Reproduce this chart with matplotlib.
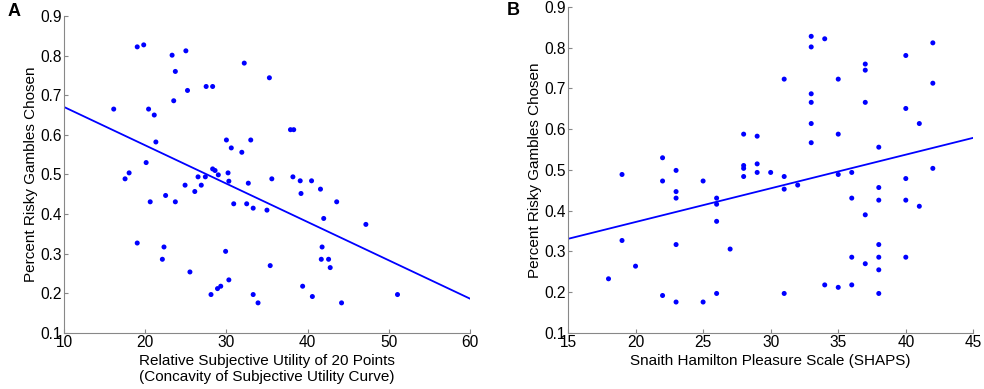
import matplotlib
matplotlib.use("Agg")
import matplotlib.pyplot as plt

plt.rcParams['font.family'] = ['Liberation Sans', 'DejaVu Sans']

# panel A: relative subjective utility vs percent risky gambles
util_x = [16.1, 19.0, 19.8, 23.3, 25.0, 23.7, 25.2, 23.5, 32.2, 27.5, 28.3, 35.3,
          20.4, 21.1, 21.3, 20.1, 17.5, 18.0, 20.6, 22.5, 23.7, 24.9, 26.1, 26.5,
          26.9, 27.4, 28.3, 28.6, 29.0, 30.0, 30.6, 30.2, 30.3, 31.9, 33.0, 32.7,
          30.9, 32.5, 33.3, 35.0, 35.6, 37.9, 38.3, 38.2, 39.1, 39.2, 40.5, 41.6,
          42.0, 43.6, 47.2, 19.0, 22.3, 22.1, 25.5, 28.1, 28.9, 29.3, 29.9, 30.3,
          33.3, 33.9, 35.4, 39.4, 40.6, 41.8, 41.7, 42.6, 42.8, 44.2, 51.1]
util_y = [0.665, 0.822, 0.827, 0.801, 0.812, 0.760, 0.712, 0.686, 0.781, 0.722, 0.722, 0.744,
          0.665, 0.650, 0.582, 0.530, 0.489, 0.504, 0.431, 0.447, 0.431, 0.473, 0.457, 0.494,
          0.473, 0.494, 0.514, 0.510, 0.499, 0.587, 0.567, 0.504, 0.483, 0.556, 0.587, 0.478,
          0.426, 0.426, 0.415, 0.410, 0.489, 0.613, 0.613, 0.494, 0.484, 0.452, 0.484, 0.463,
          0.389, 0.431, 0.374, 0.327, 0.317, 0.286, 0.254, 0.197, 0.212, 0.218, 0.306, 0.234,
          0.197, 0.176, 0.270, 0.218, 0.192, 0.317, 0.286, 0.286, 0.265, 0.176, 0.197]
fit_a_x = [10, 60]
fit_a_y = [0.670, 0.187]

# panel B: SHAPS vs percent risky gambles
shaps_x = [18, 19, 19, 20, 22, 22, 22, 23, 23, 23, 23, 23, 25, 25,
           26, 26, 26, 26, 27, 28, 28, 28, 28, 29, 29, 29, 30,
           31, 31, 31, 31, 32, 33, 33, 33, 33, 33, 33, 34, 34,
           35, 35, 35, 35, 36, 36, 36, 36, 37, 37, 37, 37, 37,
           38, 38, 38, 38, 38, 38, 38, 40, 40, 40, 40, 40, 41, 41, 42, 42, 42]
shaps_y = [0.233, 0.489, 0.327, 0.264, 0.530, 0.473, 0.192, 0.499, 0.447, 0.431, 0.317, 0.176, 0.473, 0.176,
           0.431, 0.416, 0.374, 0.197, 0.306, 0.588, 0.511, 0.504, 0.484, 0.583, 0.515, 0.494, 0.494,
           0.723, 0.484, 0.453, 0.197, 0.463, 0.828, 0.802, 0.687, 0.666, 0.614, 0.567, 0.822, 0.218,
           0.723, 0.588, 0.489, 0.212, 0.494, 0.431, 0.286, 0.218, 0.760, 0.745, 0.666, 0.390, 0.270,
           0.556, 0.457, 0.426, 0.317, 0.286, 0.255, 0.197, 0.781, 0.651, 0.479, 0.426, 0.286, 0.614, 0.411, 0.812, 0.713, 0.504]
fit_b_x = [15, 45]
fit_b_y = [0.331, 0.579]

fig = plt.figure(figsize=(9.84, 3.89), dpi=100)
axA = fig.add_axes([0.0653, 0.144, 0.412, 0.815])
axB = fig.add_axes([0.5772, 0.144, 0.412, 0.838])

def style(ax):
    for s in ['top', 'right']:
        ax.spines[s].set_visible(False)
    for s in ['left', 'bottom']:
        ax.spines[s].set_color('#888888')
        ax.spines[s].set_linewidth(0.8)
    ax.tick_params(direction='in', length=3, color='#888888', labelsize=11.2, pad=1.5)
    ax.set_ylim(0.1, 0.9)
    ax.set_yticks([0.1, 0.2, 0.3, 0.4, 0.5, 0.6, 0.7, 0.8, 0.9])
    ax.set_ylabel('Percent Risky Gambles Chosen', fontsize=11, labelpad=2)

axA.scatter(util_x, util_y, s=13, color='#0000ff', edgecolors='none', zorder=3)
axA.plot(fit_a_x, fit_a_y, color='#0000ff', lw=1.3)
axA.set_xlim(10, 60)
axA.set_xticks([10, 20, 30, 40, 50, 60])
style(axA)
axA.set_xlabel('Relative Subjective Utility of 20 Points\n(Concavity of Subjective Utility Curve)',
               fontsize=11, labelpad=3, linespacing=1.15)

axB.scatter(shaps_x, shaps_y, s=13, color='#0000ff', edgecolors='none', zorder=3)
axB.plot(fit_b_x, fit_b_y, color='#0000ff', lw=1.3)
axB.set_xlim(15, 45)
axB.set_xticks([15, 20, 25, 30, 35, 40, 45])
style(axB)
axB.set_xlabel('Snaith Hamilton Pleasure Scale (SHAPS)', fontsize=11, labelpad=3)

fig.text(0.008, 0.97, 'A', fontsize=13, fontweight='bold', va='center')
fig.text(0.515, 0.973, 'B', fontsize=13, fontweight='bold', va='center')

fig.savefig('out.png', dpi=100)
